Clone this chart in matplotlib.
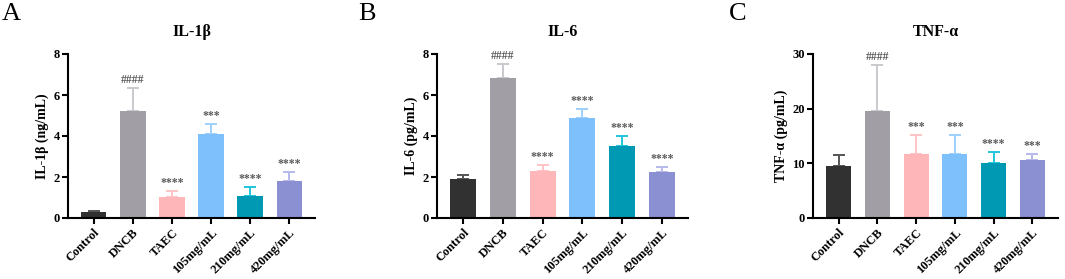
import numpy as np
import matplotlib
matplotlib.use("Agg")
import matplotlib.pyplot as plt

plt.rcParams["font.family"] = ["Liberation Serif", "DejaVu Serif"]

groups = ["Control", "DNCB", "TAEC", "105mg/mL", "210mg/mL", "420mg/mL"]

il1b_mean = [0.29, 5.24, 1.02, 4.11, 1.09, 1.80]
il1b_err = [0.07, 1.10, 0.28, 0.48, 0.42, 0.44]
il1b_sig = ["", "####", "****", "***", "****", "****"]

il6_mean = [1.90, 6.82, 2.28, 4.86, 3.51, 2.23]
il6_err = [0.18, 0.70, 0.30, 0.45, 0.47, 0.26]
il6_sig = ["", "####", "****", "****", "****", "****"]

tnf_mean = [9.45, 19.6, 11.7, 11.7, 10.1, 10.7]
tnf_err = [2.05, 8.3, 3.5, 3.5, 1.9, 0.95]
tnf_sig = ["", "####", "***", "***", "****", "***"]

bar_colors = ["#313131", "#a19fa5", "#ffb6b9", "#7ec0fb", "#0099b3", "#8a90d1"]
err_colors = ["#555555", "#c9c8cc", "#ffc3c6", "#9dd0fc", "#1ec6dc", "#b6b9ea"]

panels = [
    ("A", "IL-1β", "IL-1β (ng/mL)", il1b_mean, il1b_err, il1b_sig, 8, [0, 2, 4, 6, 8],
     [68, 315], 2),
    ("B", "IL-6", "IL-6 (pg/mL)", il6_mean, il6_err, il6_sig, 8, [0, 2, 4, 6, 8],
     [437, 688], 358),
    ("C", "TNF-α", "TNF-α (pg/mL)", tnf_mean, tnf_err, tnf_sig, 30, [0, 10, 20, 30],
     [813, 1058], 729),
]

W, H = 1065, 279
fig = plt.figure(figsize=(W / 100, H / 100), dpi=100)

x = np.arange(len(groups))
for letter, title, ylabel, mean, err, sig, ymax, yticks, (x0, x1), lx in panels:
    ax = fig.add_axes([x0 / W, (H - 218) / H, (x1 - x0) / W, 164 / H])
    ax.bar(x, mean, width=0.65, color=bar_colors, zorder=2)
    for i in range(len(groups)):
        ax.errorbar(x[i], mean[i], yerr=[[0], [err[i]]], fmt="none",
                    ecolor=err_colors[i], elinewidth=1.4, capsize=4,
                    capthick=1.4, zorder=1)
        if sig[i]:
            ax.annotate(sig[i], (x[i], mean[i] + err[i]), xytext=(0, 1.5),
                        textcoords="offset points", ha="center", va="bottom",
                        fontsize=8.5, fontweight="bold", color="#5a5a5a")
    ax.set_xlim(-0.66, len(groups) - 0.34)
    ax.set_ylim(0, ymax)
    ax.set_yticks(yticks)
    ax.set_xticks(x)
    ax.set_xticklabels(groups, rotation=45, ha="right", rotation_mode="anchor",
                       fontsize=9, fontweight="bold")
    for lab in ax.get_yticklabels():
        lab.set_fontweight("bold")
        lab.set_fontsize(9)
    ax.set_ylabel(ylabel, fontsize=10, fontweight="bold", labelpad=3)
    ax.set_title(title, fontsize=11.5, fontweight="bold", pad=13)
    for s in ["top", "right"]:
        ax.spines[s].set_visible(False)
    for s in ["left", "bottom"]:
        ax.spines[s].set_linewidth(1.5)
    ax.tick_params(width=1.5, length=4, pad=2)
    fig.text(lx / W, 1 - 3 / H, letter, fontsize=19, va="top", ha="left")

fig.savefig("out.png", dpi=100)
